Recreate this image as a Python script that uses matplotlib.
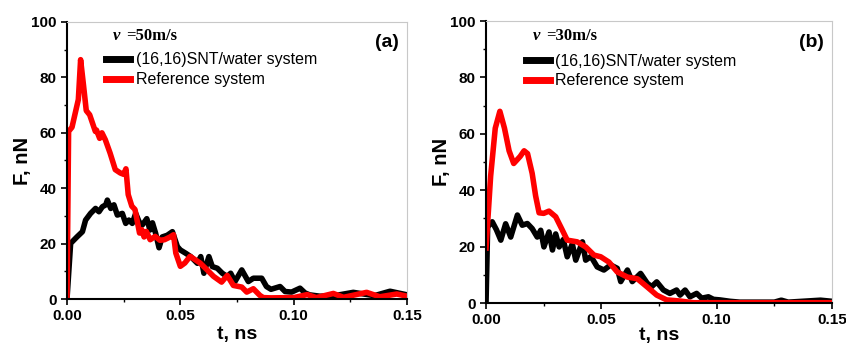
import numpy as np
import matplotlib
matplotlib.use("Agg")
import matplotlib.pyplot as plt
from matplotlib.ticker import MultipleLocator, FormatStrFormatter

plt.rcParams['font.family'] = ['Liberation Sans', 'DejaVu Sans']

#Panel (a), v = 50 m/s
ta_snt = [0, 0.0016, 0.0045, 0.0068, 0.0082, 0.0104, 0.0126, 0.0141, 0.0156, 0.0171, 0.0178, 0.0193,
          0.0207, 0.0222, 0.0244, 0.0259, 0.0273, 0.0288, 0.0303, 0.0318, 0.0332, 0.0352, 0.0366, 0.0377,
          0.0391, 0.0406, 0.042, 0.0442, 0.0465, 0.0487, 0.050, 0.0524, 0.0546, 0.0575, 0.059, 0.0604,
          0.0626, 0.0641, 0.0663, 0.0685, 0.0707, 0.0722, 0.0741, 0.0771, 0.080, 0.0822, 0.0859, 0.088,
          0.090, 0.094, 0.0962, 0.0991, 0.1028, 0.105, 0.107, 0.1116, 0.118, 0.1263, 0.1356, 0.1425, 0.15]
Fa_snt = [0, 20.1, 22.5, 24.3, 28.5, 30.9, 32.7, 31.5, 33.3, 34, 35.7, 32.7,
          34, 30.3, 30.9, 27.3, 28.5, 27.3, 30.9, 27.9, 26.7, 29, 24.9, 27.5,
          23.7, 18.5, 22.4, 23, 24.3, 18.9, 17.7, 16.5, 15.3, 12.9, 15.3, 9.3,
          15.3, 11.7, 11.1, 9.3, 8.1, 9.3, 6.3, 10.5, 6.3, 7.5, 7.5, 4.5,
          3.5, 4.5, 2.7, 2.5, 3.9, 2.2, 1.5, 1.0, 1.2, 2.4, 1.2, 2.8, 1.5]

ta_ref = [0, 0.0007, 0.0022, 0.005, 0.006, 0.0073, 0.0085, 0.010, 0.0125, 0.013, 0.0144, 0.0154,
          0.0169, 0.019, 0.0213, 0.0235, 0.025, 0.026, 0.027, 0.0286, 0.030, 0.032, 0.033, 0.034,
          0.035, 0.0367, 0.0389, 0.041, 0.043, 0.0455, 0.047, 0.048, 0.050, 0.052, 0.0543, 0.0565,
          0.0587, 0.0617, 0.0646, 0.0682, 0.0707, 0.0734, 0.0771, 0.0793, 0.0822, 0.0851, 0.0866,
          0.090, 0.1, 0.106, 0.11, 0.1175, 0.122, 0.1322, 0.138, 0.1455, 0.15]
Fa_ref = [0, 60.5, 62, 72, 86.4, 77, 68, 66.5, 60.5, 61, 58, 60,
          57.5, 52.7, 46.7, 45.5, 45, 47, 37.7, 33.5, 32.3, 23.8, 25, 22.4,
          24.4, 21.4, 22.6, 21.2, 21.4, 22.4, 23.2, 16.6, 11.8, 13, 15.4, 14.2,
          13, 10.6, 8.2, 6.1, 8.5, 4.9, 4.3, 2.5, 3.7, 1.3, 0.5,
          0.4, 0.5, 1.6, 0.5, 2.0, 0.6, 2.4, 0.8, 1.8, 1.0]

#Panel (b), v = 30 m/s
tb_snt = [0, 0.0007, 0.0027, 0.0045, 0.0064, 0.0085, 0.0107, 0.0136, 0.0157, 0.0179, 0.020, 0.0222,
          0.0237, 0.0251, 0.0273, 0.0288, 0.0302, 0.0317, 0.0335, 0.0352, 0.0374, 0.0389, 0.0418, 0.0432,
          0.0455, 0.0482, 0.0511, 0.054, 0.0569, 0.0584, 0.0613, 0.0634, 0.067, 0.0699, 0.0718, 0.074,
          0.0769, 0.0797, 0.0826, 0.0841, 0.0863, 0.0884, 0.0913, 0.0935, 0.0964, 0.0986, 0.1014, 0.1058,
          0.11, 0.125, 0.128, 0.131, 0.145, 0.15]
Fb_snt = [0, 27, 28.8, 26, 22.3, 28.1, 23.4, 31.2, 27.6, 28.2, 26.4, 23.4,
          25.8, 19.9, 25.2, 18.8, 24.5, 19.9, 22.5, 16.4, 21, 15.2, 21.7, 15.2,
          16.5, 12.8, 11.7, 13.5, 12.3, 7.6, 11.7, 7.6, 10.5, 7, 5.8, 7.5,
          4.6, 3.4, 4.6, 2.8, 4.6, 2.2, 3.4, 1.7, 2.2, 1.3, 1.1, 0.6,
          0.3, 0.3, 1.0, 0.3, 1.0, 0.6]

tb_ref = [0, 0.002, 0.004, 0.006, 0.008, 0.010, 0.012, 0.0148, 0.0165, 0.018, 0.020, 0.0215,
          0.023, 0.025, 0.0273, 0.0302, 0.033, 0.0352, 0.0395, 0.0432, 0.0468, 0.0497, 0.0533, 0.0569,
          0.0613, 0.0656, 0.070, 0.074, 0.0783, 0.0841, 0.0899, 0.15]
Fb_ref = [19.5, 45, 62, 68, 62, 54, 49.5, 52, 54, 53, 46, 38,
          32, 31.8, 32.6, 30.6, 26, 22.3, 21.7, 19.9, 17, 16.4, 14.5, 11,
          9.2, 8.6, 5.6, 2.8, 1.1, 0.7, 0.1, 0.1]

fig = plt.figure(figsize=(8.46, 3.48), dpi=100)
ax1 = fig.add_axes([0.0792, 0.1408, 0.4019, 0.796])
ax2 = fig.add_axes([0.5745, 0.1293, 0.409, 0.810])

panels = [
    (ax1, ta_snt, Fa_snt, ta_ref, Fa_ref, "=50m/s", "(a)", 0.89, 2),
    (ax2, tb_snt, Fb_snt, tb_ref, Fb_ref, "=30m/s", "(b)", 0.885, 0),
]

for ax, t1, f1, t2, f2, vtxt, tag, legy, xpad in panels:
    ax.plot(t1, f1, color='black', lw=4, label='(16,16)SNT/water system')
    ax.plot(t2, f2, color='red', lw=4, label='Reference system')
    ax.set_xlim(0, 0.15)
    ax.set_ylim(0, 100)
    ax.xaxis.set_major_locator(MultipleLocator(0.05))
    ax.xaxis.set_minor_locator(MultipleLocator(0.025))
    ax.yaxis.set_major_locator(MultipleLocator(20))
    ax.yaxis.set_minor_locator(MultipleLocator(10))
    ax.xaxis.set_major_formatter(FormatStrFormatter('%.2f'))
    ax.tick_params(which='major', direction='out', length=4, width=1.2, labelsize=11, top=False, right=False)
    ax.tick_params(which='minor', direction='out', length=2.5, width=1, top=False, right=False)
    for lab in ax.get_xticklabels() + ax.get_yticklabels():
        lab.set_fontweight('bold')
    ax.spines['left'].set_linewidth(1.5)
    ax.spines['bottom'].set_linewidth(1.5)
    ax.spines['top'].set_color('#c8c8c8')
    ax.spines['right'].set_color('#c8c8c8')
    ax.set_xlabel('t, ns', fontsize=14, fontweight='bold', labelpad=xpad)
    ax.set_ylabel('F, nN', fontsize=14.5, fontweight='bold', labelpad=-1)
    ax.text(0.135, 0.948, 'v', transform=ax.transAxes, fontsize=12, fontweight='bold',
            style='italic', family='Liberation Serif', va='center', ha='left')
    ax.text(0.175, 0.948, vtxt, transform=ax.transAxes, fontsize=12, fontweight='bold',
            family='Liberation Serif', va='center', ha='left')
    ax.text(0.975, 0.925, tag, transform=ax.transAxes, fontsize=14, fontweight='bold',
            va='center', ha='right')
    leg = ax.legend(loc='upper left', bbox_to_anchor=(0.115, legy), frameon=False, fontsize=11.5,
                    handlelength=1.5, handletextpad=0.35, labelspacing=0.3, borderpad=0, borderaxespad=0)
    for h in leg.get_lines():
        h.set_linewidth(5)

fig.savefig('out.png', dpi=100)
